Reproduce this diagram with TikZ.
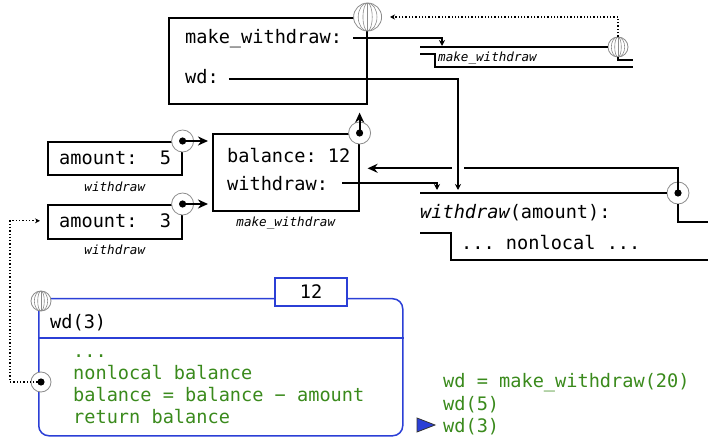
\documentclass[tikz,border=0pt]{standalone}
\usepackage{fontspec}
\setmonofont{DejaVu Sans Mono}
\usepackage[HTML]{xcolor}
\usetikzlibrary{positioning, arrows.meta}

\definecolor{frameblue}{HTML}{2B3FD6}
\definecolor{codegreen}{HTML}{3A8A1C}
\definecolor{globegray}{HTML}{8C8C8C}
\newcommand{\code}{\fontsize{18.6}{22}\selectfont\ttfamily}
\newcommand{\lbl}{\fontsize{12.6}{15}\selectfont\ttfamily\itshape}

\tikzset{
  txt/.style={inner sep=0pt, anchor=base west, font=\code},
  lbl/.style={inner sep=0pt, anchor=base, font=\lbl},
  frame/.style={draw, line width=1.6pt, anchor=north west, inner sep=0pt},
  link/.style={line width=1.5pt, -{Stealth[length=6pt,width=6pt]}},
  parent/.style={line width=2.2pt, -{Stealth[length=10pt,width=9pt]}},
  dotlink/.style={line width=1.3pt, dotted, -{Stealth[length=5pt,width=5pt]}},
  fnline/.style={line width=1.6pt},
  globe/.style={circle, draw=globegray, fill=white, line width=0.8pt, inner sep=0pt, minimum size=#1,
    path picture={
      \foreach \f in {0.33,0.67}
        \draw[globegray, line width=0.6pt] (path picture bounding box.center)
          ellipse [x radius={\f*#1*0.5pt}, y radius={#1*0.5pt}];
      \draw[globegray, line width=0.6pt] (path picture bounding box.north) -- (path picture bounding box.south);}},
  ptr/.style={circle, draw=globegray, fill=white, line width=0.8pt, inner sep=0pt, minimum size=#1,
    path picture={\fill[black] (path picture bounding box.center) circle (3.6pt);}},
}

\begin{document}
\begin{tikzpicture}[x=1pt, y=-1pt]
\useasboundingbox (0,0) rectangle (716,441);

% global frame texts
\node[txt] (mwname) at (185,44) {make\_withdraw:};
\node[txt] (wdname) at (185,84) {wd:};

% make_withdraw function
\coordinate (mwfn) at (420,47);
\coordinate (mwin) at (442,46);
\node[globe=20] (mwglobe) at (618,47) {};
\draw[fnline] (mwfn) -- (mwglobe.west);
\draw[fnline] (420,54) -| (435,67) -- (633,67);
\draw[fnline] (mwglobe.south) |- (633,60);
\node[lbl, anchor=base west] (mwfnlbl) at (438,62) {make\_withdraw};

% make_withdraw frame
\node[frame, minimum width=146pt, minimum height=77pt] (bal) at (212,133) {};
\node[txt] (balname) at (227,163) {balance: 12};
\node[txt] (wdrname) at (227,191) {withdraw:};
\node[lbl] (ballbl) at ([yshift=-15pt]bal.south) {make\_withdraw};
\node[ptr=22] (balptr) at (bal.north east) {};

% withdraw function
\coordinate (wdfn) at (420,193);
\coordinate (wdin) at (458,190);
\coordinate (wdrin) at (437,190);
\node[ptr=22] (fnptr) at (678,193) {};
\draw[fnline] (wdfn) -- (fnptr.west);
\draw[fnline] (fnptr.south) |- (708,222);
\draw[fnline] (420,233) -| (451,260) -- (708,260);
\node[txt] (fnhead) at (420,219) {{\itshape withdraw}(amount):};
\node[txt] (fnbody) at (461,250) {... nonlocal ...};

% parent pointers
\draw[parent, shorten >=8pt] (fnptr.center) |- ([yshift=4pt]bal.east);
\draw[link, preaction={draw=white, line width=12pt, -}] ([xshift=10pt,yshift=-2pt]wdname.east) -| (wdin);
\draw[link] ([xshift=11pt,yshift=1pt]mwname.east) -| (mwin);
\draw[link] ([xshift=14pt,yshift=1pt]wdrname.east) -| (wdrin);

% global frame
\node[frame, minimum width=198pt, minimum height=86pt] (global) at (168,17) {};
\node[globe=28] (gglobe) at (global.north east) {};
\draw[dotlink, shorten >=8pt] (mwglobe.north) |- (gglobe.east);
\draw[parent, shorten >=8pt] (balptr.center) -- (balptr.center |- global.south);

% withdraw frames
\node[frame, minimum width=134pt, minimum height=33pt] (a1) at (47,141) {};
\node[txt] (a1name) at (59,165) {amount:\ \ 5};
\node[lbl] (a1lbl) at ([yshift=-16pt]a1.south) {withdraw};
\node[ptr=22] (a1ptr) at (a1.north east) {};
\draw[parent, shorten >=4pt] (a1ptr.center) -- (a1ptr.center -| bal.west);

\node[frame, minimum width=134pt, minimum height=34pt] (a2) at (47,204) {};
\node[txt] (a2name) at (59,228) {amount:\ \ 3};
\node[lbl] (a2lbl) at ([yshift=-15pt]a2.south) {withdraw};
\node[ptr=22] (a2ptr) at (a2.north east) {};
\draw[parent, shorten >=4pt] (a2ptr.center) -- (a2ptr.center -| bal.west);

% current frame wd(3)
\node[draw=frameblue, line width=1.5pt, rounded corners=10pt, minimum width=364pt, minimum height=137pt,
  anchor=north west, inner sep=0pt] (cur) at (38,298) {};
\draw[frameblue, line width=1.4pt] ([yshift=-40pt]cur.north west) -- ([yshift=-40pt]cur.north east);
\node[globe=20] (curglobe) at (41,301) {};
\node[draw=frameblue, line width=1.4pt, fill=white, minimum width=72pt, minimum height=28pt,
  font=\code, inner sep=0pt] (ret) at (311,292) {12};
\node[txt] (curname) at (50,328) {wd(3)};
\node[txt, text=codegreen] (c1) at (73,357) {...};
\node[txt, text=codegreen] (c2) at (73,379) {nonlocal balance};
\node[txt, text=codegreen] (c3) at (73,401) {balance = balance − amount};
\node[txt, text=codegreen] (c4) at (73,423) {return balance};
\node[ptr=20] (curptr) at (41,382) {};
\coordinate (dotturn) at (10,382);
\draw[dotlink, shorten >=7pt] (curptr.center) -- (dotturn) |- ([yshift=1pt]a2.west);

% program
\node[txt, text=codegreen] (p1) at (443,387) {wd = make\_withdraw(20)};
\node[txt, text=codegreen] (p2) at (443,410) {wd(5)};
\node[txt, text=codegreen] (p3) at (443,432) {wd(3)};
\filldraw[fill=frameblue, draw=black!80, line width=0.8pt] (417,418) -- (435,425) -- (417,432) -- cycle;
\end{tikzpicture}
\end{document}
